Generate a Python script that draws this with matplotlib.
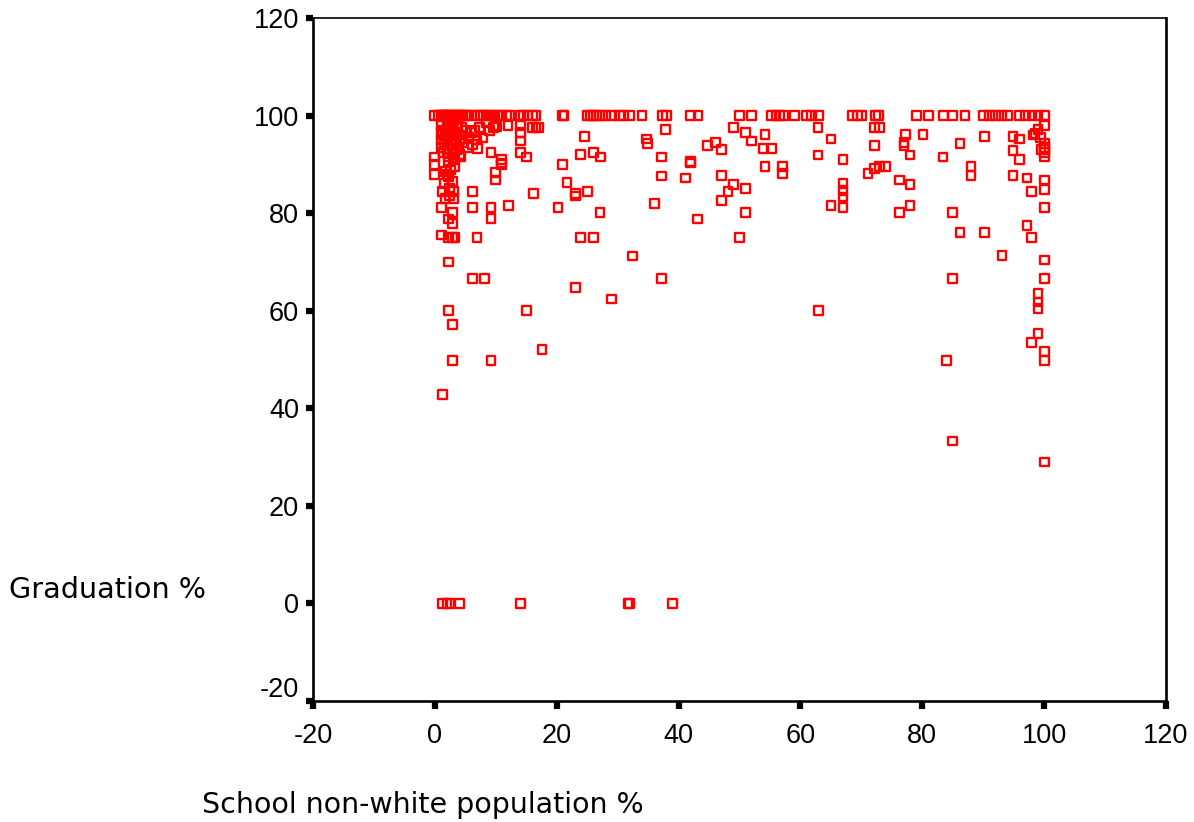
import matplotlib
matplotlib.use("Agg")
import matplotlib.pyplot as plt
from matplotlib.transforms import ScaledTranslation

# schools at 100% graduation
top_x = [0, 0.5, 1, 1.2, 1.5, 1.8, 2, 2.3, 2.6, 3, 3.3, 3.6, 4, 4.3, 4.6, 5, 5.4, 6, 7, 7.5, 8, 8.6, 9.2, 9.8, 10.4,
         11, 11.7, 12.2, 14, 14.6, 15.2, 16, 16.6, 21, 21.2, 25, 25.5, 26, 26.5, 27, 28, 29, 30.3, 31, 32, 34,
         37.3, 38, 42, 43.2, 50, 52, 55.2, 56, 56.6, 57.2, 59, 61, 61.8, 63, 68.6, 69.4, 70, 72.3, 72.8, 79, 81,
         83.5, 85, 87, 90, 91, 92, 93, 94, 96, 97, 98, 99, 100]

# left hand cluster, low non-white share
left_x = [0, 0, 0, 1, 1, 1, 1, 1.2, 1.2, 1.5, 1.5, 1.8, 1.8, 2, 2, 2, 2, 2.2, 2.2, 2.2, 2.4, 2.6, 2.6, 2.9, 2.9,
          2.9, 3, 3, 3, 3, 3.3, 3.3, 3.6, 3.6, 4, 4, 4.2, 4.6, 5, 5.3, 5.6, 6, 6.2, 6.6, 6.9, 7, 7.3, 7.9, 8.5, 9,
          9.6, 10, 10.2, 1.3, 1.6, 2.1, 2.5, 2.8, 3.1, 3.4, 3.7, 4.1, 1.4, 2.3, 2.7, 3.2, 3.5, 4.4, 1.7, 2.4, 3.1]
left_y = [91.5, 90, 88, 98, 96.5, 95, 93.5, 96, 84.5, 94.5, 86, 97, 83, 98, 95.5, 92.5, 88, 96, 90.5, 87.5, 85, 94,
          89, 97, 93, 86.5, 99, 96, 91, 84.5, 95, 89.5, 97.5, 93, 96, 92, 91.5, 94.5, 97, 93.5, 95.5, 96.5, 94, 97,
          95, 93.3, 97.5, 95.4, 98.5, 97, 97.5, 98, 97.8, 97, 94, 93, 97.5, 95, 94, 96.5, 98, 95, 92.5, 91.5, 98,
          92, 94.5, 97.5, 88.5, 83.5, 83]

# everything else
mid_x = [1.2, 2.2, 6.2, 8.1, 23.1, 29, 2.2, 15, 2.9, 17.6, 2.9, 9.2, 1.1, 2.2, 2.9, 3.3, 6.9, 23.9, 26, 1.1, 2.9,
         2.2, 2.9, 6.2, 9.2, 9.2, 12.1, 20.2, 27.1, 6.2, 16.2, 23.1, 23.1, 25, 21.7, 9.9, 9.9, 11, 11, 11, 21, 9.2,
         15, 23.9, 26.1, 27.2, 24.6, 14, 14, 14, 14, 12, 16, 16.6, 17, 32.4, 34.7, 34.9, 36, 37.2, 37.2, 37.8,
         37.2, 41.2, 41.9, 41.9, 43.1, 44.7, 46, 47.1, 47.1, 47.1, 48.1, 49, 49, 50, 51, 51, 51, 52, 54.2, 54,
         54.2, 55.2, 57, 57, 62.9, 62.9, 63, 65, 65, 67, 67, 67, 67, 67, 71.1, 72.1, 72.1, 72.1, 73, 73, 73.9,
         76.2, 76.2, 77, 77, 77.3, 78, 78, 78, 80.1, 83.4, 84, 85, 85, 85, 86.2, 86.2, 88, 88, 90.2, 90.2, 93.1,
         94.9, 96, 94.9, 96, 94.9, 97.2, 97.9, 97.2, 97.9, 98.2, 98.5, 99, 99.4, 99.5, 99, 99, 99, 99, 97.9,
         100, 100, 100, 100, 100, 100, 100, 100, 100, 100, 100, 100, 100]
mid_y = [42.8, 70, 66.6, 66.6, 64.8, 62.4, 60, 60, 57.2, 52, 49.8, 49.8, 75.5, 75, 75, 75, 75, 75, 75, 81.2, 80.2,
         78.8, 77.9, 81.2, 81.2, 78.9, 81.6, 81.2, 80.2, 84.5, 84, 84, 83.5, 84.5, 86.3, 86.8, 88.3, 91, 90.3, 90,
         90, 92.4, 91.5, 92, 92.4, 91.5, 95.7, 92.5, 94.8, 96.6, 98, 98, 97.6, 97.6, 97.6, 71.2, 95.2, 94.2, 82,
         87.6, 91.5, 97.2, 66.6, 87.2, 90.3, 90.6, 78.8, 93.8, 94.4, 87.7, 93, 82.6, 84.5, 97.6, 85.8, 75, 96.6,
         85, 80.2, 94.8, 96.2, 93.3, 89.6, 93.3, 89.6, 88.2, 91.9, 97.6, 60, 95.2, 81.6, 91, 86, 84.7, 83.3, 81.2,
         88.2, 93.8, 89.2, 97.6, 97.6, 89.6, 89.6, 86.8, 80.2, 94.4, 93.8, 96.2, 85.8, 91.9, 81.6, 96.2, 91.5, 49.8,
         80.2, 66.6, 33.3, 94.3, 76, 89.6, 87.7, 95.7, 76, 71.3, 95.7, 95.2, 92.9, 91, 87.7, 87.2, 84.4, 77.4, 75,
         96, 96.3, 97.2, 95.5, 93, 63.5, 61.8, 60.5, 55.4, 53.5, 98, 94.3, 93.5, 93, 92.5, 91.5, 86.8, 84.9, 81.2,
         70.4, 66.6, 51.7, 49.8]

# zero graduation row, and the lone 29% school
zero_x = [1.2, 2, 2.5, 4, 14, 31.7, 32, 39]
low_x = [100]
low_y = [29]

xticks = [-20, 0, 20, 40, 60, 80, 100, 120]
yticks = [-20, 0, 20, 40, 60, 80, 100, 120]

x = top_x + left_x + mid_x + zero_x + low_x
y = [100] * len(top_x) + left_y + mid_y + [0] * len(zero_x) + low_y

plt.rcParams["axes.unicode_minus"] = False

fig = plt.figure(figsize=(11.94, 8.22), dpi=100)
ax = fig.add_axes([313 / 1194, 1 - 701 / 822, 853 / 1194, 683 / 822])

ax.scatter(x, y, marker="s", s=40, facecolors="none", edgecolors="#ff0000", linewidths=1.7, clip_on=False, zorder=3)

ax.set_xlim(-20, 120)
ax.set_ylim(-20, 120)
ax.set_xticks(xticks)
ax.set_yticks(yticks)
ax.tick_params(axis="x", length=6, width=4.5, direction="out", labelsize=19.5, pad=10)
ax.tick_params(axis="y", length=5, width=4.5, direction="out", labelsize=19.5, pad=5)
for lab in ax.get_xticklabels() + ax.get_yticklabels():
    lab.set_fontfamily("Liberation Sans")
for s in ax.spines.values():
    s.set_linewidth(1.9)
    s.set_color("black")
ax.spines["top"].set_linewidth(1.2)

# the bottom y label sits above its tick so it clears the x labels
ylab = ax.get_yticklabels()[0]
ylab.set_transform(ylab.get_transform() + ScaledTranslation(0, 14 / 100, fig.dpi_scale_trans))

# axis titles sit out in the margin
fig.text(9 / 1194, 1 - 590 / 822, "Graduation %", fontsize=20.6, family="DejaVu Sans", va="center", ha="left")
fig.text(202 / 1194, 1 - 805 / 822, "School non-white population %", fontsize=20.5, family="DejaVu Sans", va="center", ha="left")

fig.savefig("out.png", dpi=100, facecolor="white")
